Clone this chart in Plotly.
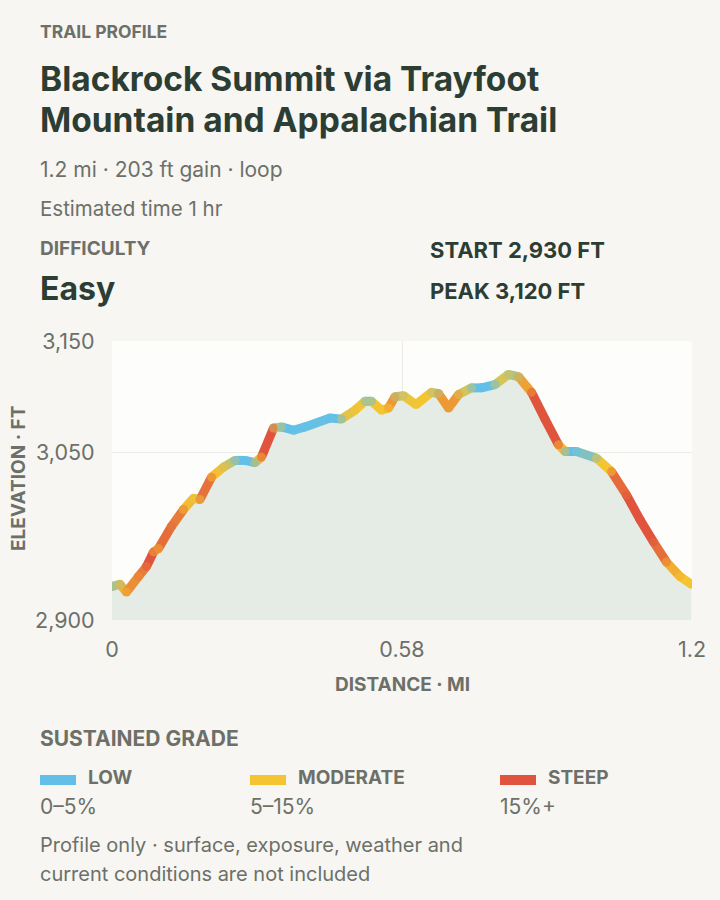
import plotly.graph_objects as go

# ---------------- data ----------------
distance_mi = [0.000, 0.016, 0.029, 0.053, 0.069, 0.083, 0.093, 0.119, 0.143, 0.163,
               0.176, 0.199, 0.223, 0.246, 0.266, 0.286, 0.299, 0.323, 0.339, 0.363,
               0.386, 0.436, 0.459, 0.486, 0.506, 0.519, 0.539, 0.553, 0.566, 0.583,
               0.608, 0.639, 0.653, 0.673, 0.693, 0.719, 0.739, 0.766, 0.793, 0.813,
               0.839, 0.866, 0.893, 0.906, 0.929, 0.969, 0.999, 1.029, 1.056, 1.083,
               1.109, 1.136, 1.159]
elevation_ft = [2930, 2932, 2925, 2939, 2948, 2961, 2964, 2984, 2999, 3009,
                3008, 3028, 3037, 3043, 3043, 3041, 3046, 3072, 3073, 3070,
                3073, 3081, 3080, 3088, 3096, 3096, 3088, 3090, 3100, 3101,
                3093, 3104, 3103, 3090, 3102, 3108, 3108, 3111, 3120, 3118,
                3104, 3080, 3057, 3051, 3051, 3045, 3033, 3012, 2990, 2970,
                2952, 2939, 2932]
x_tickvals = [0, 0.58, 1.16]
x_ticktext = ["0", "0.58", "1.2"]
y_tickvals = [2900, 3050, 3150]
y_ticktext = ["2,900", "3,050", "3,150"]
grade_names = ["LOW", "MODERATE", "STEEP"]
grade_ranges = ["0–5%", "5–15%", "15%+"]

# ---------------- style ----------------
BG = "#f7f6f2"
PLOT_BG = "#fdfdfb"
FILL = "#e5ece5"
DARK = "#2c3d34"
GRAY = "#6c7069"
BLUE = (98, 192, 232)
YELLOW = (245, 197, 49)
RED = (224, 83, 61)
FONT = "Inter"

L, R, T, B = 112, 692, 341, 620
W, H = 720, 900


def pxx(x):
    return (x - L) / (R - L)


def pxy(y):
    return (B - y) / (B - T)


def mix(c1, c2, t):
    return tuple(c1[i] + (c2[i] - c1[i]) * t for i in range(3))


def grade_color(g):
    g = abs(g)
    stops = [(0, BLUE), (2.5, BLUE), (5.5, YELLOW), (8, YELLOW), (14, RED), (1000, RED)]
    for (g0, c0), (g1, c1) in zip(stops[:-1], stops[1:]):
        if g <= g1:
            t = 0 if g1 == g0 else (g - g0) / (g1 - g0)
            return mix(c0, c1, t)
    return RED


def rgb(c):
    return "rgb(%d,%d,%d)" % tuple(int(round(v)) for v in c)


# grades per segment (%), then a light rolling average ("sustained" grade)
raw = []
for i in range(len(distance_mi) - 1):
    run = (distance_mi[i + 1] - distance_mi[i]) * 5280
    raw.append(abs(elevation_ft[i + 1] - elevation_ft[i]) / run * 100)
weights = [1, 4, 1]
smooth = []
n = len(raw)
for i in range(n):
    tot, wsum = 0.0, 0.0
    for k, w in enumerate(weights):
        j = i + k - 1
        if 0 <= j < n:
            tot += w * raw[j]
            wsum += w
    smooth.append(tot / wsum)
seg_cols = [grade_color(g) for g in smooth]

fig = go.Figure()
fig.add_trace(go.Scatter(x=distance_mi, y=elevation_ft, mode="lines", fill="tozeroy",
                         fillcolor=FILL, line=dict(width=0, color=FILL),
                         hoverinfo="skip", showlegend=False))
for i in range(n):
    fig.add_trace(go.Scatter(x=distance_mi[i:i + 2], y=elevation_ft[i:i + 2], mode="lines",
                             line=dict(width=9, color=rgb(seg_cols[i])),
                             hoverinfo="skip", showlegend=False))
pt_cols = []
for i in range(len(distance_mi)):
    a = seg_cols[max(i - 1, 0)]
    b = seg_cols[min(i, n - 1)]
    pt_cols.append(rgb(mix(a, b, 0.5)))
fig.add_trace(go.Scatter(x=distance_mi, y=elevation_ft, mode="markers",
                         marker=dict(size=9, color=pt_cols, line=dict(width=0)),
                         hoverinfo="skip", showlegend=False))

fig.update_layout(
    width=W, height=H,
    margin=dict(l=L, r=W - R, t=T, b=H - B),
    paper_bgcolor=BG, plot_bgcolor=PLOT_BG,
    font=dict(family=FONT, color=GRAY),
    showlegend=False,
)
fig.update_xaxes(range=[0, 1.16], tickvals=x_tickvals, ticktext=x_ticktext,
                 showgrid=True, gridcolor="#ecebe7", gridwidth=1, zeroline=False,
                 showline=False, ticks="outside", ticklen=10, tickcolor="rgba(0,0,0,0)",
                 tickfont=dict(size=21.5, color=GRAY, family=FONT))
fig.update_yaxes(range=[2900, 3150], tickvals=y_tickvals, ticktext=y_ticktext,
                 showgrid=True, gridcolor="#ecebe7", gridwidth=1, zeroline=False,
                 showline=False, ticks="outside", ticklen=12, tickcolor="rgba(0,0,0,0)",
                 tickfont=dict(size=21.5, color=GRAY, family=FONT))

ann = []


def text(x, y, s, size, color, bold=False, anchor="left", angle=0):
    if anchor == "left":
        x -= 2
    ann.append(dict(x=pxx(x), y=pxy(y), xref="paper", yref="paper",
                    text=("<b>%s</b>" % s) if bold else s, showarrow=False,
                    xanchor=anchor, yanchor="middle", textangle=angle,
                    font=dict(size=size, color=color, family=FONT)))


text(40, 31, "TRAIL PROFILE", 17.5, GRAY, True)
text(40, 79, "Blackrock Summit via Trayfoot", 33.5, DARK, True)
text(40, 120, "Mountain and Appalachian Trail", 33.5, DARK, True)
text(40, 169, "1.2 mi · 203 ft gain · loop", 21, GRAY)
text(40, 208, "Estimated time 1 hr", 20.5, GRAY)
text(40, 248, "DIFFICULTY", 19, GRAY, True)
text(40, 288, "Easy", 32, DARK, True)
text(430, 250, "START 2,930 FT", 22, DARK, True)
text(430, 291, "PEAK 3,120 FT", 22, DARK, True)
text(402, 684, "DISTANCE · MI", 19, GRAY, True, anchor="center")
text(18, 479, "ELEVATION · FT", 19, GRAY, True, anchor="center", angle=-90)
text(40, 738, "SUSTAINED GRADE", 21, GRAY, True)

shapes = []
swatch_cols = [BLUE, YELLOW, RED]
for k, x0 in enumerate([40, 250, 500]):
    shapes.append(dict(type="rect", xref="paper", yref="paper",
                       x0=pxx(x0), x1=pxx(x0 + 36), y0=pxy(785), y1=pxy(775),
                       fillcolor=rgb(swatch_cols[k]), line=dict(width=0)))
    text(x0 + 48, 777, grade_names[k], 19, GRAY, True)
    text(x0, 806, grade_ranges[k], 21, GRAY)

text(40, 845, "Profile only · surface, exposure, weather and", 20, GRAY)
text(40, 874, "current conditions are not included", 20, GRAY)

fig.update_layout(annotations=ann, shapes=shapes)
fig.write_html("out.html", config={"displayModeBar": False},
               post_script="document.body.style.margin='0';document.body.style.background='%s';" % BG)
